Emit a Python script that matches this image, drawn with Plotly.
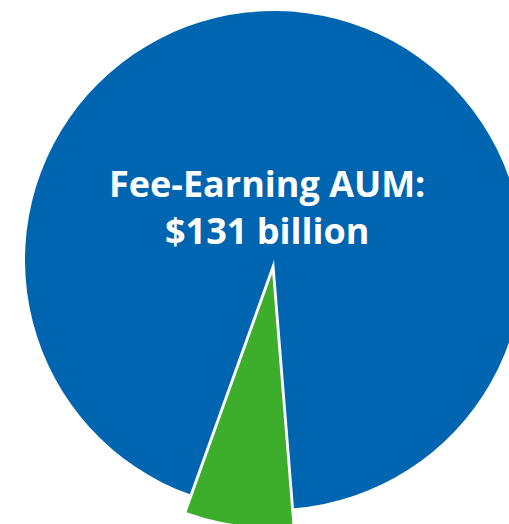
import plotly.graph_objects as go

labels = ["Other AUM", "Fee-Earning AUM"]
values = [9.5, 131]
colors = ["#3DAE2B", "#0065B1"]
title_lines = ["Fee-Earning AUM:", "$131 billion"]

W, H = 532, 534


def dom(cx, cy, r):
    return dict(x=[(cx - r) / W, (cx + r) / W],
                y=[(H - cy - r) / H, (H - cy + r) / H])


clear = "rgba(0,0,0,0)"
fig = go.Figure()
fig.add_trace(go.Pie(
    labels=labels, values=values, sort=False, direction="clockwise",
    rotation=175.4, textinfo="none", hoverinfo="label+value",
    marker=dict(colors=[clear, colors[1]], line=dict(width=0)),
    domain=dom(274, 260, 249), showlegend=False))
fig.add_trace(go.Pie(
    labels=labels, values=values, sort=False, direction="clockwise",
    rotation=175.4, textinfo="none", hoverinfo="label+value",
    marker=dict(colors=[colors[0], clear],
                line=dict(color=["white", clear], width=[1.5, 0])),
    domain=dom(272.7, 269.9, 258), showlegend=False))

fig.add_annotation(
    text="<b>" + "<br>".join(title_lines) + "</b>",
    x=267 / W, y=(H - 206.5) / H, xref="paper", yref="paper",
    xanchor="center", yanchor="middle", showarrow=False,
    font=dict(family="Open Sans", size=36, color="white"))

fig.update_layout(width=W, height=H, margin=dict(l=0, r=0, t=0, b=0),
                  paper_bgcolor="white", plot_bgcolor="white")
fig.write_html(
    "out.html",
    config={"displayModeBar": False},
    post_script="document.body.style.margin='0';"
                "document.body.style.overflow='hidden';")
